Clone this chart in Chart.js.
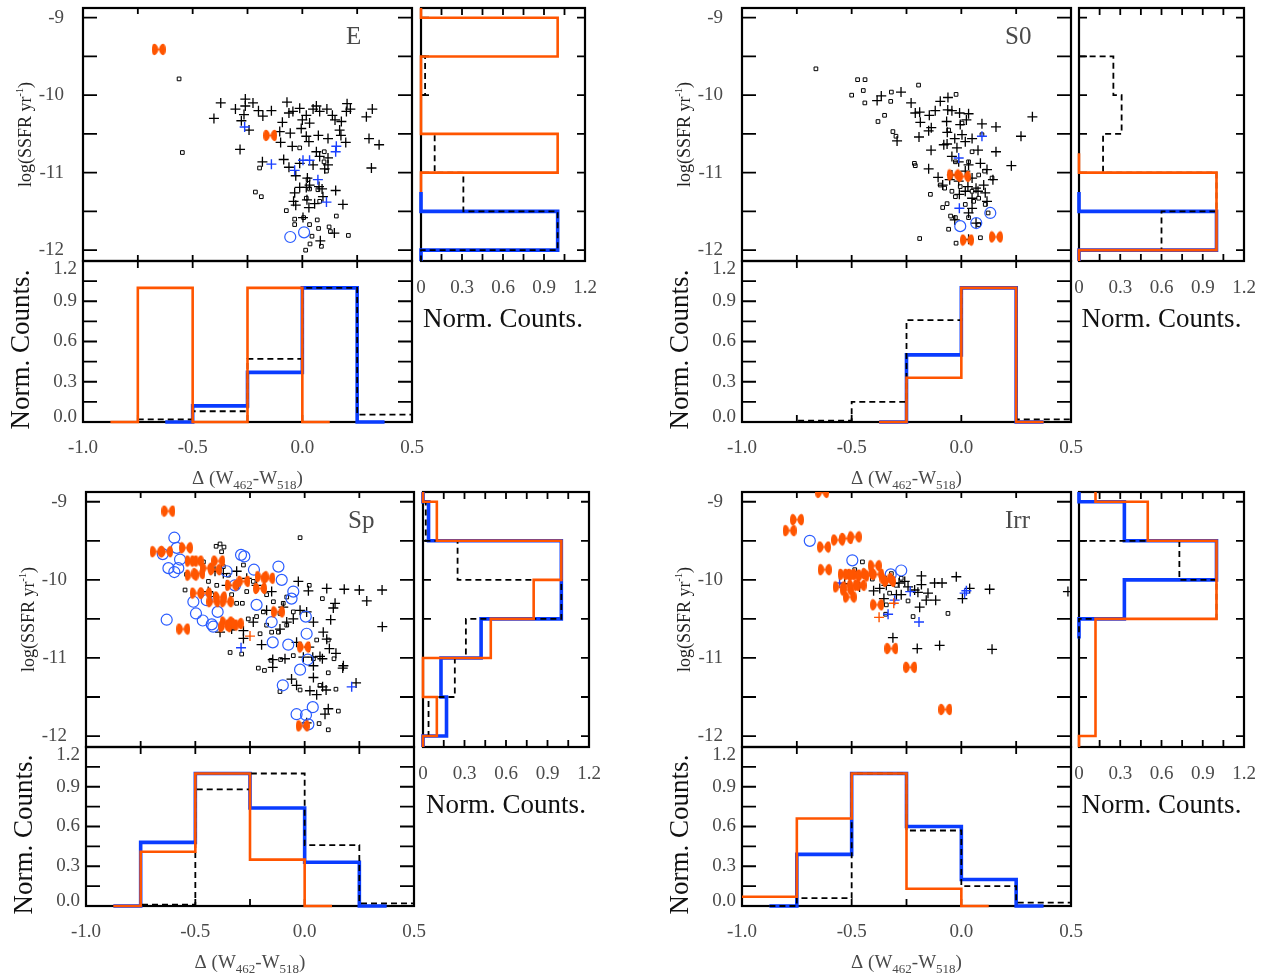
<!DOCTYPE html>
<html>
<head>
<meta charset="utf-8">
<script src="https://cdn.jsdelivr.net/npm/chart.js@4/dist/chart.umd.min.js"></script>
<style>
  body { margin: 0; background: #fff; width: 1274px; height: 977px; overflow: hidden; }
  canvas { position: absolute; }
</style>
</head>
<body>
<script>
// ---- axes / tick labels ----
const deltaTicks = [-1.0, -0.75, -0.5, -0.25, 0, 0.25, 0.5];
const deltaLabels = ['-1.0', '-0.5', '0.0', '0.5'];
const ssfrTicks = [-9, -9.5, -10, -10.5, -11, -11.5, -12];
const ssfrLabels = ['-9', '-10', '-11', '-12'];
const countTicks = [0, 0.15, 0.3, 0.45, 0.6, 0.75, 0.9, 1.05, 1.2];
const countLabels = ['0.0', '0.3', '0.6', '0.9', '1.2'];
const countLabelsH = ['0', '0.3', '0.6', '0.9', '1.2'];

// ---- histogram bin centres ----
const deltaCenters = [-1.125, -0.875, -0.625, -0.375, -0.125, 0.125, 0.375, 0.625];
const ssfrCenters = [-8.25, -8.75, -9.25, -9.75, -10.25, -10.75, -11.25, -11.75, -12.25];

// ---- E ----
const eCross = [[-0.372,-10.10],[-0.305,-10.18],[-0.26,-10.05],[-0.26,-10.14],[-0.225,-10.10],[-0.20,-10.20],[-0.18,-10.27],[-0.141,-10.20],[-0.266,-10.25],[-0.278,-10.33],[-0.403,-10.30],[-0.243,-10.45],[-0.284,-10.70],[-0.182,-10.86],[-0.103,-10.47],[-0.099,-10.61],[-0.07,-10.09],[-0.061,-10.23],[-0.091,-10.35],[-0.043,-10.21],[-0.012,-10.17],[0.0,-10.32],[-0.005,-10.43],[0.018,-10.26],[0.033,-10.36],[0.049,-10.18],[0.064,-10.14],[0.079,-10.21],[0.112,-10.18],[0.137,-10.26],[0.149,-10.32],[0.178,-10.34],[0.17,-10.45],[0.204,-10.11],[0.219,-10.18],[0.201,-10.21],[0.292,-10.28],[0.319,-10.18],[0.304,-10.56],[0.35,-10.64],[0.315,-10.94],[-0.055,-10.49],[-0.046,-10.66],[0.018,-10.53],[0.03,-10.60],[0.073,-10.52],[0.117,-10.56],[0.176,-10.52],[0.198,-10.61],[0.064,-10.73],[0.079,-10.79],[0.117,-10.81],[-0.085,-10.83],[-0.061,-10.93],[-0.03,-11.04],[-0.012,-10.88],[0.049,-10.90],[0.102,-10.95],[0.117,-10.90],[0.023,-11.07],[0.033,-11.16],[0.018,-11.19],[0.09,-11.21],[0.152,-11.23],[-0.035,-11.26],[-0.040,-11.37],[-0.03,-11.42],[0.021,-11.35],[0.056,-11.40],[0.094,-11.31],[0.185,-11.41],[0.03,-11.45],[0.003,-11.58],[0.146,-11.78],[0.082,-11.88],[0.076,-11.18],[-0.012,-11.19]];
const eSquare = [[-0.562,-9.79],[-0.547,-10.74],[-0.214,-11.25],[-0.187,-11.31],[-0.195,-10.94],[-0.073,-11.49],[-0.035,-11.60],[-0.035,-11.67],[0.006,-11.58],[0.033,-11.67],[0.068,-11.61],[0.074,-11.72],[0.044,-11.82],[0.122,-11.70],[0.128,-11.76],[0.155,-11.56],[0.21,-11.81],[0.035,-11.92],[0.087,-11.95],[0.015,-12.0],[0.018,-11.33],[0.071,-11.22],[0.033,-11.21],[-0.012,-10.68],[0.1,-10.73],[0.11,-10.98],[0.099,-10.86],[0.026,-11.09],[0.079,-11.37]];
const eBlueCross = [[-0.263,-10.41],[-0.141,-10.89],[0.003,-10.84],[0.033,-10.84],[0.155,-10.66],[0.152,-10.73],[0.071,-11.09],[0.11,-11.38],[-0.035,-10.97]];
const eBlueCircle = [[-0.055,-11.83],[0.008,-11.77]];
const eOrange = [[-0.655,-9.41],[-0.146,-10.52]];
const eOrangeCross = [];
const eDeltaAll = [null, 0, 0.02, 0.08, 0.47, 1.0, 0.055, 0.055];
const eDeltaBlue = [null, null, 0, 0.12, 0.37, 1.0, 0, null];
const eDeltaOrange = [null, 0, 1.0, 0, 1.0, 0, null, null];
const eSsfrAll = [null, null, 0, 0.03, 0, 0.1, 0.31, 1.0, 0];
const eSsfrBlue = [null, null, null, null, null, null, 0, 1.0, 0];
const eSsfrOrange = [null, 0, 1.0, 0, 0, 1.0, 0, null, null];

// ---- S0 ----
const s0Cross = [[-0.384,-10.07],[-0.365,-10.01],[-0.275,-9.96],[-0.229,-10.10],[-0.21,-10.23],[-0.19,-10.22],[-0.187,-10.35],[-0.146,-10.26],[-0.137,-10.42],[-0.149,-10.46],[-0.293,-10.59],[-0.193,-10.54],[-0.138,-10.71],[-0.149,-10.95],[-0.119,-10.20],[-0.096,-10.08],[-0.061,-10.03],[-0.062,-10.19],[-0.043,-10.20],[-0.067,-10.34],[-0.064,-10.48],[-0.065,-10.63],[-0.008,-10.23],[0.033,-10.24],[0.023,-10.32],[-0.005,-10.38],[0.003,-10.51],[-0.03,-10.56],[-0.02,-10.68],[0.018,-10.60],[0.049,-10.56],[0.076,-10.71],[0.094,-10.37],[0.158,-10.41],[0.158,-10.73],[0.324,-10.28],[0.272,-10.53],[0.228,-10.91],[0.087,-10.88],[0.117,-10.96],[0.033,-10.90],[0.018,-10.98],[0.049,-11.07],[-0.043,-10.79],[-0.043,-11.03],[-0.106,-11.06],[-0.085,-11.16],[-0.053,-11.09],[-0.012,-11.11],[0.03,-11.18],[0.067,-11.20],[0.144,-11.09],[0.102,-11.16],[0.109,-11.26],[-0.009,-11.28],[0.018,-11.24],[0.049,-11.33],[0.076,-11.24],[0.049,-11.46],[0.033,-11.52],[-0.03,-11.61],[0.067,-11.65],[0.033,-11.86],[0.117,-11.37],[-0.08,-10.64],[-0.012,-10.86]];
const s0Square = [[-0.663,-9.66],[-0.473,-9.80],[-0.439,-9.80],[-0.447,-9.94],[-0.50,-10.0],[-0.44,-10.10],[-0.319,-9.96],[-0.322,-10.08],[-0.195,-9.87],[-0.35,-10.26],[-0.38,-10.34],[-0.312,-10.47],[-0.298,-10.53],[-0.214,-10.88],[-0.21,-10.91],[-0.141,-11.28],[-0.085,-11.45],[-0.065,-11.40],[-0.024,-9.99],[-0.058,-10.45],[-0.049,-11.56],[-0.027,-11.58],[-0.058,-11.73],[-0.19,-11.85],[-0.024,-11.91],[0.087,-11.84],[0.033,-11.58],[0.079,-11.67],[0.122,-11.52],[-0.096,-11.16],[-0.076,-11.20],[-0.043,-11.24],[-0.005,-11.18],[0.033,-11.07],[0.049,-11.24],[0.079,-11.33],[0.109,-11.41],[0.003,-10.36],[0.094,-10.51],[0.049,-10.73],[0.033,-10.86],[-0.027,-10.86],[0.106,-10.98],[0.14,-11.07],[0.079,-11.03],[-0.027,-11.31],[0.018,-11.41],[0.056,-11.37]];
const s0BlueCross = [[0.094,-10.53],[-0.012,-10.81],[-0.009,-11.46]];
const s0BlueCircle = [[0.132,-11.52],[0.068,-11.65],[-0.005,-11.69]];
const s0Orange = [[-0.035,-11.03],[0.011,-11.05],[0.026,-11.87],[0.158,-11.83]];
const s0OrangeCross = [];
const s0DeltaAll = [null, 0, 0.01, 0.15, 0.76, 1.0, 0.02, 0.02];
const s0DeltaBlue = [null, null, null, 0, 0.5, 1.0, 0, null];
const s0DeltaOrange = [null, null, null, 0, 0.33, 1.0, 0, null];
const s0SsfrAll = [null, null, 0, 0.25, 0.31, 0.175, 1.0, 0.6, 0];
const s0SsfrBlue = [null, null, null, null, null, null, 0, 1.0, 0];
const s0SsfrOrange = [null, null, null, null, null, 0, 1.0, 1.0, 0];

// ---- Sp ----
const spCross = [[-0.029,-10.02],[0.017,-10.14],[0.101,-10.11],[0.181,-10.12],[0.25,-10.13],[0.354,-10.13],[0.284,-10.27],[0.139,-10.30],[0.131,-10.36],[0.119,-10.51],[0.355,-10.60],[0.04,-10.54],[-0.021,-10.39],[-0.082,-10.54],[-0.113,-10.63],[-0.334,-10.63],[-0.387,-10.67],[-0.28,-10.65],[-0.28,-10.75],[-0.197,-10.83],[-0.037,-10.80],[0.021,-10.86],[0.085,-10.67],[0.101,-10.76],[0.113,-10.88],[0.143,-10.94],[0.07,-10.98],[0.037,-10.99],[-0.006,-10.99],[-0.09,-11.01],[-0.146,-11.02],[-0.146,-11.12],[0.04,-11.10],[0.081,-11.01],[0.177,-11.10],[0.174,-11.13],[0.04,-11.25],[-0.06,-11.27],[-0.037,-11.35],[0.024,-11.42],[0.055,-11.47],[0.082,-11.37],[0.098,-11.41],[0.235,-11.32],[0.108,-11.65],[0.093,-11.72],[0.009,-11.83],[-0.174,-10.39],[-0.235,-10.54],[-0.372,-9.92],[-0.357,-10.07],[-0.311,-9.89],[-0.41,-9.89],[-0.441,-10.15],[-0.265,-9.98],[-0.22,-10.07],[-0.151,-10.15],[-0.098,-10.35],[-0.052,-10.50],[0.009,-10.41]];
const spSquare = [[-0.021,-9.46],[-0.405,-9.57],[-0.387,-9.54],[-0.38,-9.64],[-0.369,-9.58],[-0.28,-9.81],[-0.463,-9.77],[-0.54,-9.93],[-0.547,-10.13],[-0.44,-10.02],[-0.372,-9.83],[-0.349,-9.94],[-0.311,-10.09],[-0.265,-10.15],[-0.235,-10.02],[-0.174,-10.19],[-0.143,-10.28],[-0.098,-10.30],[-0.052,-10.41],[0.021,-10.07],[0.081,-10.24],[-0.285,-10.30],[-0.22,-10.47],[-0.174,-10.58],[-0.151,-10.67],[-0.12,-10.67],[-0.082,-10.58],[-0.341,-10.93],[-0.288,-10.95],[-0.212,-11.13],[-0.184,-11.16],[-0.154,-11.03],[-0.11,-11.02],[-0.052,-10.97],[0.04,-11.01],[0.055,-10.77],[0.108,-10.77],[0.134,-11.01],[0.108,-11.19],[-0.113,-11.43],[-0.021,-11.41],[0.07,-11.35],[0.143,-11.40],[0.154,-11.68],[0.066,-11.84],[0.108,-11.92],[-0.425,-10.19],[-0.402,-10.07],[-0.334,-10.19],[-0.311,-10.30],[-0.258,-10.50],[-0.189,-10.41],[-0.113,-10.43],[-0.082,-10.22],[-0.326,-10.62],[-0.204,-10.69]];
const spBlueCross = [[-0.291,-10.87],[0.215,-11.37]];
const spBlueCircle = [[-0.596,-9.46],[-0.585,-9.59],[-0.649,-9.67],[-0.623,-9.85],[-0.596,-9.90],[-0.578,-9.85],[-0.57,-9.74],[-0.631,-10.51],[-0.509,-10.28],[-0.497,-10.43],[-0.466,-10.52],[-0.425,-10.57],[-0.418,-10.60],[-0.398,-10.41],[-0.448,-10.26],[-0.291,-9.68],[-0.276,-9.70],[-0.232,-9.87],[-0.12,-9.83],[-0.105,-10.0],[-0.052,-10.15],[-0.06,-10.24],[0.005,-10.47],[-0.146,-10.80],[-0.075,-10.83],[0.009,-10.69],[0.014,-11.02],[-0.021,-11.15],[-0.1,-11.35],[0.037,-11.63],[0.006,-11.73],[-0.037,-11.72],[0.017,-11.85],[-0.22,-10.32],[-0.151,-10.54],[-0.319,-10.07],[-0.357,-9.89]];
const spOrange = [[-0.623,-9.12],[-0.634,-9.64],[-0.543,-9.59],[-0.517,-9.76],[-0.494,-9.76],[-0.517,-9.94],[-0.486,-9.92],[-0.448,-9.85],[-0.41,-9.87],[-0.494,-10.17],[-0.456,-10.17],[-0.418,-10.28],[-0.387,-10.22],[-0.357,-10.28],[-0.334,-10.07],[-0.28,-10.02],[-0.197,-9.96],[-0.166,-9.98],[-0.204,-10.11],[-0.123,-10.41],[-0.357,-10.54],[-0.334,-10.58],[-0.311,-10.56],[-0.364,-10.60],[-0.555,-10.63],[-0.003,-10.86],[-0.009,-11.87],[-0.395,-9.76],[-0.677,-9.64]];
const spOrangeCross = [[-0.25,-10.72]];
const spDeltaAll = [null, 0, 0.01, 0.88, 1.0, 0.46, 0.02, 0.02];
const spDeltaBlue = [null, 0, 0.48, 1.0, 0.74, 0.33, 0, null];
const spDeltaOrange = [null, 0, 0.41, 1.0, 0.35, 0, null, null];
const spSsfrAll = [null, 0, 0.02, 0.25, 1.0, 0.31, 0.23, 0.04, 0];
const spSsfrBlue = [null, 0, 0.04, 1.0, 1.0, 0.42, 0.13, 0.17, 0];
const spSsfrOrange = [null, 0, 0.1, 1.0, 0.8, 0.49, 0, 0.1, 0];

// ---- Irr ----
const irrCross = [[-0.532,-10.05],[-0.464,-10.09],[-0.40,-10.14],[-0.353,-10.24],[-0.342,-10.01],[-0.342,-10.07],[-0.284,-10.04],[-0.274,-10.19],[-0.243,-10.09],[-0.213,-10.13],[-0.182,-9.95],[-0.182,-10.06],[-0.198,-10.16],[-0.152,-10.17],[-0.16,-10.26],[-0.117,-10.26],[-0.122,-10.04],[-0.088,-10.04],[-0.023,-9.96],[0.005,-10.24],[0.038,-10.11],[0.129,-10.12],[0.486,-10.15],[-0.19,-10.35],[-0.312,-10.74],[-0.201,-10.88],[-0.099,-10.84],[0.14,-10.89],[-0.258,-10.02],[-0.296,-10.19],[-0.372,-10.11]];
const irrSquare = [[-0.451,-9.77],[-0.486,-9.87],[-0.406,-9.99],[-0.342,-10.32],[-0.345,-10.44],[-0.327,-10.17],[-0.296,-10.07],[-0.274,-9.98],[-0.243,-10.27],[-0.22,-10.47],[-0.061,-10.43],[-0.319,-9.92]];
const irrBlueCross = [[-0.555,-10.04],[-0.304,-10.26],[-0.334,-10.44],[-0.193,-10.54],[-0.233,-10.15],[0.015,-10.17],[0.023,-10.14]];
const irrBlueCircle = [[-0.691,-9.50],[-0.497,-9.75],[-0.322,-9.93],[-0.274,-9.88]];
const irrOrange = [[-0.634,-8.88],[-0.749,-9.23],[-0.783,-9.37],[-0.626,-9.58],[-0.562,-9.49],[-0.524,-9.47],[-0.486,-9.45],[-0.623,-9.87],[-0.532,-9.93],[-0.509,-9.93],[-0.486,-9.94],[-0.451,-9.95],[-0.426,-9.92],[-0.395,-9.82],[-0.383,-9.93],[-0.555,-10.09],[-0.521,-10.13],[-0.49,-10.07],[-0.509,-10.22],[-0.464,-10.07],[-0.342,-9.98],[-0.33,-10.02],[-0.384,-10.32],[-0.319,-10.88],[-0.233,-11.12],[-0.073,-11.66]];
const irrOrangeCross = [[-0.375,-10.48],[-0.308,-10.30]];
const irrDeltaAll = [null, 0, 0.06, 1.0, 0.57, 0.15, 0.025, 0.025];
const irrDeltaBlue = [null, 0, 0.39, 1.0, 0.6, 0.2, 0, null];
const irrDeltaOrange = [0.07, 0.07, 0.66, 1.0, 0.13, 0, null, null];
const irrSsfrAll = [null, null, 0, 0.73, 1.0, 0, null, null, null];
const irrSsfrBlue = [null, 0, 0.33, 1.0, 0.33, 0, null, null, null];
const irrSsfrOrange = [0, 0.12, 0.5, 1.0, 1.0, 0.12, 0.12, 0.12, 0];

// ---- styling ----
const ORANGE = '#ff5500';
const BLUE = '#0a3cff';
const FONT = '"Liberation Serif", "Times New Roman", serif';
const SSFR_MIN = -12.14, SSFR_MAX = -8.875;
const PAD = { l: 80, t: 8, r: 22, b: 75 };

// two teardrops pointing at each other
function bowtie(color) {
  const c = document.createElement('canvas');
  c.width = 14; c.height = 13;
  const g = c.getContext('2d');
  const cx = 7, cy = 6.5;
  g.fillStyle = color;
  g.beginPath();
  g.moveTo(cx, cy);
  g.bezierCurveTo(cx - 2.5, cy - 8, cx - 7, cy - 7, cx - 7, cy);
  g.bezierCurveTo(cx - 7, cy + 7, cx - 2.5, cy + 8, cx, cy);
  g.moveTo(cx, cy);
  g.bezierCurveTo(cx + 2.5, cy - 8, cx + 7, cy - 7, cx + 7, cy);
  g.bezierCurveTo(cx + 7, cy + 7, cx + 2.5, cy + 8, cx, cy);
  g.fill();
  return c;
}
const bowtieImg = bowtie(ORANGE);

// IDL psym=10 style step: a flat segment centred on every bin
function steps(centers, vals, horizontal) {
  const idx = vals.map((v, i) => (v == null ? -1 : i)).filter(i => i >= 0);
  const pts = [];
  idx.forEach((i, k) => {
    const lo = k > 0 ? (centers[i - 1] + centers[i]) / 2 : centers[i];
    const hi = k < idx.length - 1 ? (centers[i] + centers[i + 1]) / 2 : centers[i];
    pts.push([lo, vals[i]], [hi, vals[i]]);
  });
  return pts.map(([c, v]) => (horizontal ? { x: v, y: c } : { x: c, y: v }));
}

const xy = arr => arr.map(([x, y]) => ({ x, y }));

function richText(ctx, parts, cx, cy) {
  let w = 0;
  parts.forEach(p => { ctx.font = p.size + 'px ' + FONT; w += ctx.measureText(p.t).width; });
  let x = cx - w / 2;
  ctx.textAlign = 'left';
  ctx.textBaseline = 'alphabetic';
  parts.forEach(p => {
    ctx.font = p.size + 'px ' + FONT;
    ctx.fillText(p.t, x, cy + (p.dy || 0));
    x += ctx.measureText(p.t).width;
  });
}

// frame with inward ticks, labels and titles, all placed through the chart scales
function framePlugin(cfg) {
  return {
    id: 'frame',
    beforeDatasetsDraw(chart) {
      const { ctx, chartArea: a, scales: { x, y } } = chart;
      ctx.save();
      ctx.strokeStyle = '#000';
      ctx.lineWidth = 1.8;
      ctx.beginPath();
      cfg.xTicks.forEach(v => {
        const px = x.getPixelForValue(v);
        if (px < a.left + 2 || px > a.right - 2) return;
        ctx.moveTo(px, a.top); ctx.lineTo(px, a.top + cfg.xLen);
        ctx.moveTo(px, a.bottom); ctx.lineTo(px, a.bottom - cfg.xLen);
      });
      cfg.yTicks.forEach(v => {
        const py = y.getPixelForValue(v);
        if (py < a.top + 2 || py > a.bottom - 2) return;
        ctx.moveTo(a.left, py); ctx.lineTo(a.left + cfg.yLen, py);
        ctx.moveTo(a.right, py); ctx.lineTo(a.right - cfg.yLen, py);
      });
      ctx.stroke();
      ctx.lineWidth = 2.2;
      ctx.strokeRect(a.left, a.top, a.right - a.left, a.bottom - a.top);
      ctx.restore();
    },
    afterDraw(chart) {
      const { ctx, chartArea: a, scales: { x, y } } = chart;
      ctx.save();
      ctx.fillStyle = '#4a4a4a';
      ctx.font = '19px ' + FONT;
      ctx.textBaseline = 'middle';
      ctx.textAlign = 'center';
      (cfg.xLabels || []).forEach(t => {
        ctx.fillText(t, x.getPixelForValue(parseFloat(t)), a.bottom + cfg.xLabelGap);
      });
      ctx.textAlign = 'right';
      (cfg.yLabels || []).forEach(t => {
        let py = y.getPixelForValue(parseFloat(t));
        py = Math.min(Math.max(py, a.top + cfg.yClamp[0]), a.bottom - cfg.yClamp[1]);
        ctx.fillText(t, a.left - cfg.yLabelGap, py);
      });
      if (cfg.name) {
        ctx.font = '25px ' + FONT;
        ctx.textAlign = 'left';
        ctx.fillText(cfg.name, a.right - 66, a.top + 29);
      }
      if (cfg.kind === 'scatter') {
        ctx.fillStyle = '#222';
        ctx.translate(a.left - 52, (a.top + a.bottom) / 2);
        ctx.rotate(-Math.PI / 2);
        richText(ctx, [{ t: 'log(SSFR yr', size: 18 }, { t: '-1', size: 10, dy: -8 }, { t: ')', size: 18 }], 0, 0);
      }
      if (cfg.kind === 'bottom') {
        ctx.fillStyle = '#4a4a4a';
        richText(ctx, [{ t: '\u0394 (W', size: 19 }, { t: '462', size: 13, dy: 5 }, { t: '-W', size: 19 }, { t: '518', size: 13, dy: 5 }, { t: ')', size: 19 }],
          (a.left + a.right) / 2, a.bottom + 62);
        ctx.fillStyle = '#111';
        ctx.font = '27px ' + FONT;
        ctx.textAlign = 'center';
        ctx.textBaseline = 'middle';
        ctx.translate(a.left - 61, (a.top + a.bottom) / 2 + 8);
        ctx.rotate(-Math.PI / 2);
        ctx.fillText('Norm. Counts.', 0, 0);
      }
      if (cfg.kind === 'right') {
        ctx.fillStyle = '#111';
        ctx.font = '27px ' + FONT;
        ctx.textAlign = 'center';
        ctx.fillText('Norm. Counts.', (a.left + a.right) / 2, a.bottom + 59);
      }
      ctx.restore();
    }
  };
}

function addChart(box, datasets, xr, yr, cfg, clip) {
  const [L, T, R, B] = box.map(Math.round);
  const c = document.createElement('canvas');
  c.width = R - L + PAD.l + PAD.r;
  c.height = B - T + PAD.t + PAD.b;
  c.style.left = (L - PAD.l) + 'px';
  c.style.top = (T - PAD.t) + 'px';
  document.body.appendChild(c);
  datasets.forEach(d => { if (clip) d.clip = clip; });
  return new Chart(c, {
    type: 'scatter',
    data: { datasets },
    options: {
      responsive: false,
      animation: false,
      devicePixelRatio: 1,
      events: [],
      layout: { padding: { left: PAD.l, top: PAD.t, right: PAD.r, bottom: PAD.b } },
      plugins: { legend: { display: false }, tooltip: { enabled: false } },
      scales: {
        x: { type: 'linear', display: false, min: xr[0], max: xr[1] },
        y: { type: 'linear', display: false, min: yr[0], max: yr[1] }
      }
    },
    plugins: [framePlugin(cfg)]
  });
}

function points(data, style, color, radius, width, fill) {
  return {
    data: xy(data), showLine: false, pointStyle: style, pointRadius: radius,
    pointBorderWidth: width, pointBorderColor: color, borderColor: color,
    pointBackgroundColor: fill || 'rgba(0,0,0,0)', backgroundColor: fill || 'rgba(0,0,0,0)'
  };
}

function histLine(pts, color, width, dash) {
  return {
    data: pts, showLine: true, pointRadius: 0, borderColor: color, borderWidth: width,
    borderDash: dash || [], fill: false, tension: 0
  };
}

function panel(p) {
  // scatter
  addChart(p.sc, [
    points(p.orange, bowtieImg, ORANGE, 6, 0),
    points(p.orangeCross, 'cross', ORANGE, 5, 1.4),
    points(p.blueCircle, 'circle', '#2a5cff', 5.5, 1.2),
    points(p.blueCross, 'cross', '#1a40ff', 5, 1.4),
    points(p.cross, 'cross', '#000', 5, 1.3),
    points(p.square, 'rect', '#000', 2.6, 1)
  ], [-1.0, 0.5], [SSFR_MIN, SSFR_MAX], {
    kind: 'scatter', name: p.name, xTicks: deltaTicks, yTicks: ssfrTicks, xLen: 6, yLen: 14,
    yLabels: ssfrLabels, yLabelGap: 19, yClamp: [0, 0]
  });
  // histogram of SSFR (right)
  addChart(p.rh, [
    histLine(steps(ssfrCenters, p.ssfrOrange, true), ORANGE, 2.6),
    histLine(steps(ssfrCenters, p.ssfrAll, true), '#000', 1.8, [6, 4]),
    histLine(steps(ssfrCenters, p.ssfrBlue, true), BLUE, 3.6)
  ], [0, 1.2], [SSFR_MIN, SSFR_MAX], {
    kind: 'right', xTicks: countTicks, yTicks: ssfrTicks, xLen: 7, yLen: 8,
    xLabels: countLabelsH, xLabelGap: 27
  }, { left: 3, right: 0, top: 0, bottom: 0 });
  // histogram of colour offset (bottom)
  addChart(p.bh, [
    histLine(steps(deltaCenters, p.deltaOrange, false), ORANGE, 2.6),
    histLine(steps(deltaCenters, p.deltaAll, false), '#000', 1.8, [6, 4]),
    histLine(steps(deltaCenters, p.deltaBlue, false), BLUE, 3.6)
  ], [-1.0, 0.5], [0, 1.2], {
    kind: 'bottom', xTicks: deltaTicks, yTicks: countTicks, xLen: 7, yLen: 14,
    xLabels: deltaLabels, xLabelGap: 26, yLabels: countLabels, yLabelGap: 6, yClamp: [8, 5]
  }, { left: 0, right: 0, top: 0, bottom: 3 });
}

panel({ name: 'E', sc: [83, 8, 412, 261], rh: [421, 8, 585, 261], bh: [83, 261, 412, 422],
  cross: eCross, square: eSquare, blueCross: eBlueCross, blueCircle: eBlueCircle, orange: eOrange, orangeCross: eOrangeCross,
  deltaAll: eDeltaAll, deltaBlue: eDeltaBlue, deltaOrange: eDeltaOrange,
  ssfrAll: eSsfrAll, ssfrBlue: eSsfrBlue, ssfrOrange: eSsfrOrange });
panel({ name: 'S0', sc: [742, 8, 1071, 261], rh: [1079, 8, 1244, 261], bh: [742, 261, 1071, 422],
  cross: s0Cross, square: s0Square, blueCross: s0BlueCross, blueCircle: s0BlueCircle, orange: s0Orange, orangeCross: s0OrangeCross,
  deltaAll: s0DeltaAll, deltaBlue: s0DeltaBlue, deltaOrange: s0DeltaOrange,
  ssfrAll: s0SsfrAll, ssfrBlue: s0SsfrBlue, ssfrOrange: s0SsfrOrange });
panel({ name: 'Sp', sc: [86, 492, 414, 747], rh: [423, 492, 589, 747], bh: [86, 747, 414, 906],
  cross: spCross, square: spSquare, blueCross: spBlueCross, blueCircle: spBlueCircle, orange: spOrange, orangeCross: spOrangeCross,
  deltaAll: spDeltaAll, deltaBlue: spDeltaBlue, deltaOrange: spDeltaOrange,
  ssfrAll: spSsfrAll, ssfrBlue: spSsfrBlue, ssfrOrange: spSsfrOrange });
panel({ name: 'Irr', sc: [742, 492, 1071, 747], rh: [1079, 492, 1244, 747], bh: [742, 747, 1071, 906],
  cross: irrCross, square: irrSquare, blueCross: irrBlueCross, blueCircle: irrBlueCircle, orange: irrOrange, orangeCross: irrOrangeCross,
  deltaAll: irrDeltaAll, deltaBlue: irrDeltaBlue, deltaOrange: irrDeltaOrange,
  ssfrAll: irrSsfrAll, ssfrBlue: irrSsfrBlue, ssfrOrange: irrSsfrOrange });
</script>
</body>
</html>
